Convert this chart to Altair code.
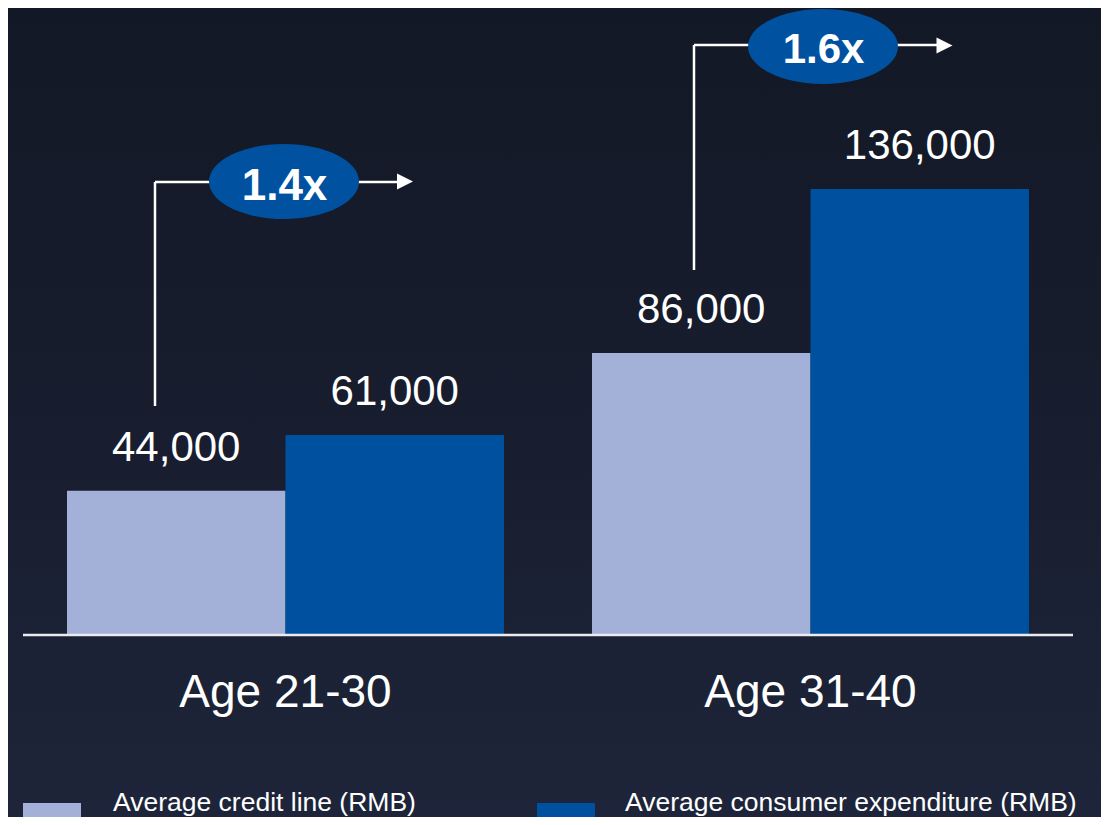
import altair as alt
import pandas as pd

# ---- data ----
groups = ["Age 21-30", "Age 31-40"]
series = ["Average credit line (RMB)", "Average consumer expenditure (RMB)"]
credit_line = [44000, 86000]
consumer_expenditure = [61000, 136000]
ratio_labels = ["1.4x", "1.6x"]

# ---- styles / layout ----
colors = ["#A3B1D9", "#0050A0"]
ellipse_color = "#0052A1"
W, H = 1093, 627
PAD_B = 182
O = 8  # page margin offset
Y_MAX = 191200
FONT = "Liberation Sans"

rows = []
for g, c, e in zip(groups, credit_line, consumer_expenditure):
    rows.append({"group": g, "series": series[0], "value": c})
    rows.append({"group": g, "series": series[1], "value": e})
df = pd.DataFrame(rows)
gdf = pd.DataFrame({"group": groups})

x_scale = alt.Scale(domain=groups, range=[15, 1065], paddingInner=0.1676, paddingOuter=0.0838)
y_scale = alt.Scale(domain=[0, Y_MAX], nice=False, zero=True)
color_scale = alt.Scale(domain=series, range=colors)
xoff = alt.XOffset("series:N", sort=series, scale=alt.Scale(domain=series, paddingInner=0, paddingOuter=0))
x_enc = alt.X("group:N", sort=groups, scale=x_scale, axis=None)

# background gradient
bg = alt.Chart(alt.Data(values=[{}])).mark_rect(
    color=alt.Gradient(gradient="linear",
                       stops=[alt.GradientStop(color="#131826", offset=0),
                              alt.GradientStop(color="#181e2f", offset=0.55),
                              alt.GradientStop(color="#1e253a", offset=1)],
                       x1=0, x2=0, y1=0, y2=1)
).encode(x=alt.value(-O), x2=alt.value(W + O), y=alt.value(-O), y2=alt.value(H + PAD_B + O))

bars = alt.Chart(df).mark_bar().encode(
    x=x_enc, xOffset=xoff,
    y=alt.Y("value:Q", scale=y_scale, axis=None),
    color=alt.Color("series:N", sort=series, scale=color_scale, legend=None),
)

labels = alt.Chart(df).mark_text(font=FONT, fontSize=42, color="white",
                                 baseline="alphabetic", align="center", dy=-30).encode(
    x=x_enc, xOffset=xoff,
    y=alt.Y("value:Q", scale=y_scale, axis=None),
    text=alt.Text("value:Q", format=","),
)

# category labels and baseline
cat_labels = alt.Chart(gdf).mark_text(font=FONT, fontSize=46, color="white",
                                      baseline="alphabetic", align="center").encode(
    x=x_enc, y=alt.value(707 - O), text="group:N",
)
baseline = alt.Chart(alt.Data(values=[{}])).mark_rule(color="#e9ebf0", strokeWidth=2.5).encode(
    x=alt.value(15), x2=alt.value(1065), y=alt.value(H)
)

# ---- annotations (pixel layout) ----
rules_df = pd.DataFrame({
    "x": [155, 155, 694, 694], "y": [406, 182, 270, 45],
    "x2": [155, 398, 694, 938], "y2": [182, 182, 45, 45],
})
rules_df = rules_df - O
arrow_lines = alt.Chart(rules_df).mark_rule(color="white", strokeWidth=2.5).encode(
    x=alt.X("x:Q", scale=None), y=alt.Y("y:Q", scale=None),
    x2="x2:Q", y2="y2:Q",
)

heads_df = pd.DataFrame({"x": [405, 944.5], "y": [181.5, 45.5]}) - O
heads = alt.Chart(heads_df).mark_point(
    shape="M -1 -1 L 1 0 L -1 1 Z", size=256, filled=True, color="white", opacity=1, strokeWidth=0
).encode(x=alt.X("x:Q", scale=None), y=alt.Y("y:Q", scale=None))

ELLIPSE = ("M -1 0 C -1 -0.276 -0.552 -0.5 0 -0.5 C 0.552 -0.5 1 -0.276 1 0 "
           "C 1 0.276 0.552 0.5 0 0.5 C -0.552 0.5 -1 0.276 -1 0 Z")
ell_df = pd.DataFrame({"x": [284, 823], "y": [181.5, 46.5]}) - O
ellipses = alt.Chart(ell_df).mark_point(
    shape=ELLIPSE, size=22500, filled=True, color=ellipse_color, opacity=1, strokeWidth=0
).encode(x=alt.X("x:Q", scale=None), y=alt.Y("y:Q", scale=None))

ratio_df = pd.DataFrame({"x": [284.5 - O, 823.5 - O], "y": [200 - O, 63 - O],
                         "label": ratio_labels, "fs": [44, 42]})
ratios = alt.Chart(ratio_df).mark_text(font=FONT, fontWeight="bold", color="white",
                                       align="center", baseline="alphabetic").encode(
    x=alt.X("x:Q", scale=None), y=alt.Y("y:Q", scale=None),
    text="label:N", size=alt.Size("fs:Q", scale=None),
)

# ---- legend (manual) ----
leg_df = pd.DataFrame({"series": series,
                       "x": [23 - O, 537 - O], "x2": [81 - O, 595 - O],
                       "y": [803 - O, 803 - O], "y2": [840 - O, 840 - O],
                       "tx": [113 - O, 625 - O], "ty": [811 - O, 811 - O]})
leg_boxes = alt.Chart(leg_df).mark_rect().encode(
    x=alt.X("x:Q", scale=None), x2="x2:Q",
    y=alt.Y("y:Q", scale=None), y2="y2:Q",
    color=alt.Color("series:N", sort=series, scale=color_scale, legend=None),
)
leg_text = alt.Chart(leg_df).mark_text(font=FONT, fontSize=26.5, color="white",
                                       align="left", baseline="alphabetic").encode(
    x=alt.X("tx:Q", scale=None), y=alt.Y("ty:Q", scale=None), text="series:N",
)

chart = alt.layer(bg, bars, labels, cat_labels, baseline, arrow_lines, ellipses, heads,
                  ratios, leg_boxes, leg_text).properties(
    width=W, height=H,
    autosize=alt.AutoSizeParams(type="none"),
    padding={"left": 0, "top": 0, "right": 0, "bottom": PAD_B},
    background="#161c2d",
).configure_view(stroke=None)

chart.save("out.html", embed_options={"renderer": "svg", "actions": False})
